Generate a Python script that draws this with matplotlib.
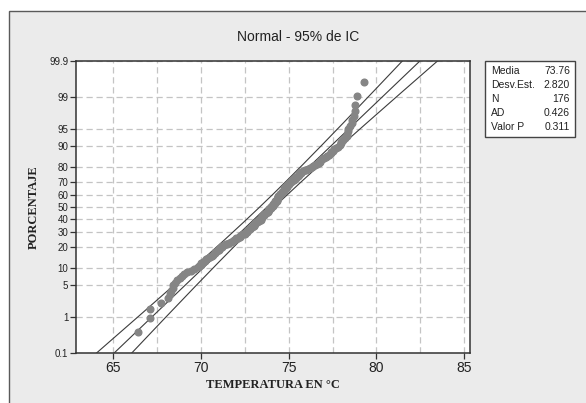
import numpy as np
import matplotlib
matplotlib.use("Agg")
import matplotlib.pyplot as plt
from matplotlib.patches import Rectangle
from matplotlib.ticker import FixedLocator, MultipleLocator
from statistics import NormalDist

# ----- data (sorted temperatures) -----
temps = [
    66.4, 67.1, 67.1, 67.7,
    68.1, 68.2, 68.3, 68.4, 68.4,
    68.5, 68.6, 68.8, 68.9, 69.0, 69.2, 69.4, 69.6, 69.8,
    69.9, 70.0, 70.0, 70.1, 70.2, 70.3, 70.4, 70.5, 70.6,
    70.7, 70.8, 70.8, 70.9, 71.0, 71.0, 71.1, 71.2, 71.2,
    71.3, 71.4, 71.5, 71.6, 71.7, 71.8, 71.9, 72.0, 72.0,
    72.1, 72.2, 72.2, 72.3, 72.4, 72.5, 72.5, 72.6, 72.6,
    72.7, 72.7, 72.8, 72.8, 72.9, 72.9, 73.0, 73.0, 73.0, 73.1, 73.1, 73.2,
    73.2, 73.3, 73.3, 73.4, 73.4,
    73.4, 73.5, 73.5, 73.5, 73.6, 73.6, 73.6, 73.7, 73.7, 73.8, 73.8, 73.8,
    73.9, 73.9, 73.9, 74.0, 74.0, 74.0,
    74.1, 74.1, 74.1, 74.1, 74.2, 74.2, 74.2, 74.2, 74.3, 74.3, 74.3, 74.3,
    74.4, 74.4, 74.4, 74.4, 74.5,
    74.5, 74.5, 74.6, 74.6, 74.6, 74.7, 74.7, 74.7, 74.8, 74.8, 74.8, 74.9,
    74.9, 74.9, 75.0, 75.0, 75.0, 75.1,
    75.2, 75.2, 75.3, 75.3, 75.4, 75.4, 75.5, 75.5, 75.6, 75.6, 75.7, 75.7,
    75.8, 75.9,
    76.0, 76.1, 76.2, 76.3, 76.4, 76.5, 76.6,
    76.7, 76.8, 76.8, 76.9, 77.0,
    77.1, 77.2, 77.3, 77.4, 77.4, 77.5, 77.6, 77.7, 77.8,
    77.9, 78.0, 78.0, 78.1, 78.2,
    78.3, 78.3, 78.4, 78.4,
    78.5, 78.6, 78.6, 78.7,
    78.8, 78.8, 78.9, 79.3,
]
media, desv, n_obs, ad, valor_p = 73.76, 2.820, 176, 0.426, 0.311
stat_names = ["Media", "Desv.Est.", "N", "AD", "Valor P"]
stat_vals = ["73.76", "2.820", "176", "0.426", "0.311"]
pct_ticks = [0.1, 1, 5, 10, 20, 30, 40, 50, 60, 70, 80, 90, 95, 99, 99.9]
temp_ticks = [65, 70, 75, 80, 85]

# ----- normal probability scale -----
nd = NormalDist()
_ppf = np.vectorize(lambda p: nd.inv_cdf(min(max(p / 100.0, 1e-9), 1 - 1e-9)),
                    otypes=[float])
_cdf = np.vectorize(lambda z: 100.0 * nd.cdf(z), otypes=[float])

W, H = 586, 403
fig = plt.figure(figsize=(W / 100, H / 100), dpi=100)
fig.patch.set_facecolor("white")
fig.patches.append(Rectangle((9 / W, -0.02), 1.0, (H - 11) / H + 0.02,
                             transform=fig.transFigure, facecolor="#ebebeb",
                             edgecolor="#5a5a5a", lw=1.0, zorder=-5))

ax = fig.add_axes([76 / W, 50 / H, 394 / W, 292 / H])
ax.set_zorder(2)
ax.set_facecolor("white")
ax.set_yscale("function", functions=(_ppf, _cdf))

x = np.array(temps)
ranks = np.arange(1, len(x) + 1)
pct = (ranks - 0.3) / (len(x) + 0.4) * 100

# fitted line + 95% CI
z = np.linspace(-3.4, 3.4, 300)
pz = _cdf(z)
xf = media + desv * z
se = desv * np.sqrt(1 / n_obs + z ** 2 / (2 * n_obs))
for xx in (xf - 1.96 * se, xf, xf + 1.96 * se):
    ax.plot(xx, pz, color="#3c3c3c", lw=0.8, zorder=3)

ax.plot(x, pct, "o", ms=4.8, color="#858585", mec="#858585", zorder=4)

ax.set_xlim(62.87, 85.33)
ax.set_ylim(0.1, 99.9)
ax.yaxis.set_major_locator(FixedLocator(pct_ticks))
ax.set_yticklabels([f"{t:g}" for t in pct_ticks])
ax.yaxis.set_minor_locator(FixedLocator([]))
ax.xaxis.set_major_locator(FixedLocator(temp_ticks))
ax.xaxis.set_minor_locator(MultipleLocator(2.5))

ax.grid(True, which="both", axis="x", ls=(0, (5, 3)), color="#c4c4c4", lw=0.9)
ax.grid(True, which="major", axis="y", ls=(0, (5, 3)), color="#c4c4c4", lw=0.9)
ax.set_axisbelow(True)
ax.tick_params(axis="y", which="major", length=4, width=0.9, color="#333",
               labelsize=7, pad=1.5, labelcolor="#222")
ax.tick_params(axis="x", which="major", length=4, width=0.9, color="#333",
               labelsize=10, pad=2, labelcolor="#222")
ax.tick_params(axis="x", which="minor", length=0)
for lab in ax.get_xticklabels() + ax.get_yticklabels():
    lab.set_family("Liberation Sans")
for s in ax.spines.values():
    s.set_color("#333333")
    s.set_linewidth(1.1)

fig.text(298 / W, 1 - 37 / H, "Normal - 95% de IC", ha="center", va="center",
         fontsize=10, family="Liberation Sans", color="#222")
fig.text(273 / W, 1 - 385 / H, "TEMPERATURA EN \u00b0C", ha="center", va="center",
         fontsize=9, family="Liberation Serif", weight="bold", color="#222")
fig.text(34 / W, 1 - 207 / H, "PORCENTAJE", ha="center", va="center",
         rotation=90, fontsize=9, family="Liberation Serif", weight="bold",
         color="#222")

# stats box
fig.patches.append(Rectangle((485 / W, 1 - 137 / H), 90 / W, 76 / H,
                             transform=fig.transFigure, facecolor="white",
                             edgecolor="#444", lw=1.0, zorder=1))
for i, (nm, vl) in enumerate(zip(stat_names, stat_vals)):
    yy = 1 - (70.5 + i * 14.2) / H
    fig.text(491 / W, yy, nm, ha="left", va="center", fontsize=7.5,
             family="Liberation Sans", color="#222")
    fig.text(570 / W, yy, vl, ha="right", va="center", fontsize=7.5,
             family="Liberation Sans", color="#222")

fig.savefig("out.png", dpi=100)
